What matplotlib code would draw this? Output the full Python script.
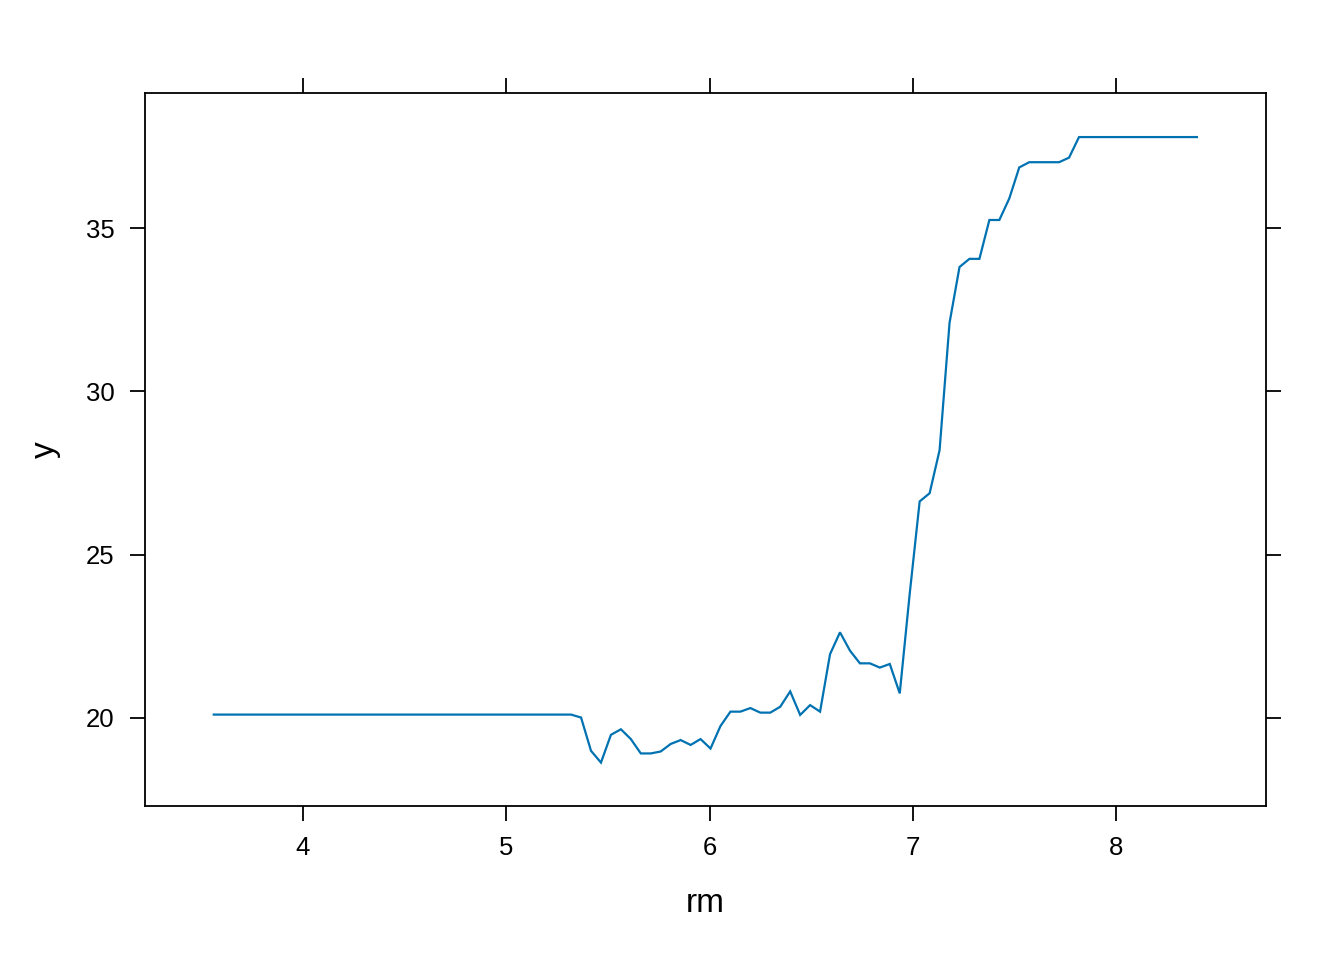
import matplotlib
matplotlib.use("Agg")
import matplotlib.pyplot as plt

plt.rcParams['font.family'] = ['Liberation Sans', 'DejaVu Sans']

rm = [3.561, 5.319, 5.368, 5.417, 5.466, 5.515, 5.564, 5.613, 5.662, 5.711,
      5.760, 5.809, 5.858, 5.907, 5.956, 6.005, 6.054, 6.103, 6.152, 6.201,
      6.250, 6.299, 6.348, 6.397, 6.446, 6.495, 6.544, 6.593, 6.642, 6.691,
      6.740, 6.789, 6.838, 6.887, 6.936, 6.985, 7.034, 7.083, 7.132, 7.181,
      7.230, 7.279, 7.328, 7.377, 7.426, 7.475, 7.524, 7.573, 7.622, 7.671,
      7.720, 7.769, 7.818, 8.398]
yhat = [20.10, 20.10, 20.01, 18.99, 18.63, 19.48, 19.65, 19.35, 18.91, 18.91,
        18.97, 19.20, 19.32, 19.17, 19.35, 19.06, 19.75, 20.19, 20.19, 20.30,
        20.16, 20.16, 20.34, 20.81, 20.09, 20.39, 20.19, 21.95, 22.62, 22.06,
        21.67, 21.67, 21.54, 21.65, 20.75, 23.80, 26.63, 26.88, 28.20, 32.10,
        33.81, 34.06, 34.06, 35.25, 35.25, 35.91, 36.86, 37.02, 37.02, 37.02,
        37.02, 37.16, 37.79, 37.79]

x_ticks = [4, 5, 6, 7, 8]
y_ticks = [20, 25, 30, 35]
x_label = "rm"
y_label = "y"

fig = plt.figure(figsize=(13.44, 9.6), dpi=100)
ax = fig.add_axes([145/1344, 1 - 806/960, (1266-145)/1344, (806-93)/960])

ax.plot(rm, yhat, color='#0072B2', lw=1.6, solid_joinstyle='miter')

ax.set_xlim(3.2226, 8.738)
ax.set_ylim(17.30, 39.14)

ax.set_xticks(x_ticks)
ax.set_yticks(y_ticks)
ax.set_xticklabels([str(t) for t in x_ticks])
ax.set_yticklabels([str(t) for t in y_ticks])
ax.tick_params(axis='both', which='major', direction='out', length=10.8,
               width=1.3, labelsize=18.5, pad=11,
               top=True, right=True, labeltop=False, labelright=False)
for s in ax.spines.values():
    s.set_linewidth(1.3)

ax.set_xlabel(x_label, fontsize=24, labelpad=20)
ax.set_ylabel(y_label, fontsize=24, labelpad=18)

fig.savefig("out.png", dpi=100)
